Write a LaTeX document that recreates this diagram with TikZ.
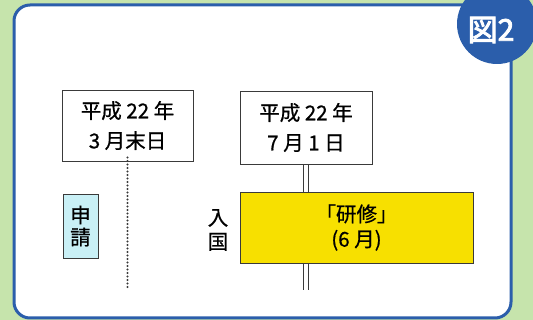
\documentclass[tikz,border=0pt]{standalone}
\usepackage{fontspec}
\setmainfont{Noto Sans CJK JP}[FakeBold=0.7]
\newfontfamily\badgefont{Noto Sans CJK JP}[FakeBold=3]
\definecolor{bggreen}{HTML}{C6E4AC}
\definecolor{panelblue}{HTML}{2B5EAB}
\definecolor{boxyellow}{HTML}{F7E000}
\definecolor{boxcyan}{HTML}{C9F0F6}
\definecolor{edgegray}{HTML}{3A3A3A}
\tikzset{
  datebox/.style={draw=edgegray, line width=0.9pt, fill=white, align=center, font=\fontsize{20.5}{30}\selectfont, inner sep=0pt},
  lbl/.style={inner sep=0pt, align=center},
}
\begin{document}
\begin{tikzpicture}[x=1pt,y=-1pt]
\useasboundingbox (0,0) rectangle (533,320);
\clip (0,0) rectangle (533,320);
\fill[bggreen] (0,0) rectangle (533,320);
\draw[panelblue, line width=3pt, fill=white, rounded corners=16pt] (14,5) rectangle (511,318);
\fill[panelblue] (497,24) circle (40);
\node[font=\badgefont\fontsize{30}{30}\selectfont, text=white, inner sep=0pt] (badge) at (491,30) {図2};
% date boxes
\node[datebox, minimum width=131pt, minimum height=71pt] (d1) at (127.5,125.5) {平成 22 年\\3 月末日};
\node[datebox, minimum width=132pt, minimum height=73pt] (d2) at (306,127.5) {平成 22 年\\7 月 1 日};
% yellow box
\node[draw=edgegray, line width=0.9pt, fill=boxyellow, minimum width=233pt, minimum height=71pt, lbl, font=\fontsize{20.5}{25}\selectfont] (kenshu) at (356.5,227.5) {「研修」\\(6 月)};
% application box
\node[draw=edgegray, line width=0.9pt, fill=boxcyan, minimum width=35pt, minimum height=64pt, lbl, font=\fontsize{20.5}{22}\selectfont] (shinsei) at (80.5,226) {申\\請};
% entry label
\node[lbl, font=\fontsize{20.5}{24}\selectfont] (nyukoku) at (218,230) {入\\国};
% connectors
\coordinate (dotend) at (127.5,287);
\draw[edgegray, line width=2.2pt, line cap=round, dash pattern=on 0pt off 3.5pt] ([yshift=4pt]d1.south) -- (dotend);
\draw[edgegray, line width=0.9pt] ([xshift=-2.5pt]d2.south) -- ([xshift=-2.5pt]d2.south |- kenshu.north);
\draw[edgegray, line width=0.9pt] ([xshift=2.5pt]d2.south) -- ([xshift=2.5pt]d2.south |- kenshu.north);
\coordinate (dblend) at (306,290);
\draw[edgegray, line width=0.9pt] ([xshift=-2.5pt]d2.south |- kenshu.south) -- ([xshift=-2.5pt]dblend);
\draw[edgegray, line width=0.9pt] ([xshift=2.5pt]d2.south |- kenshu.south) -- ([xshift=2.5pt]dblend);
\end{tikzpicture}
\end{document}
